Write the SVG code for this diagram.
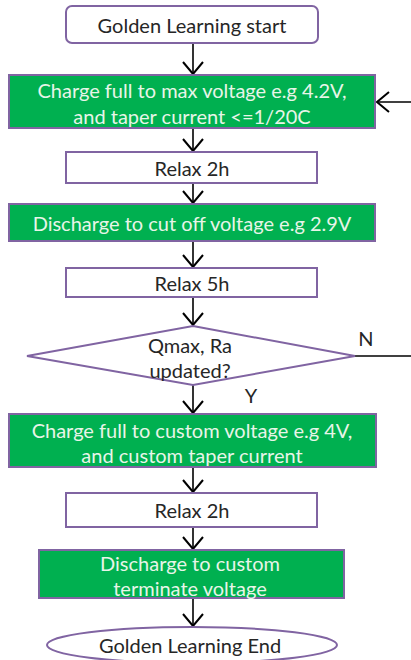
<svg xmlns="http://www.w3.org/2000/svg" width="411" height="660" viewBox="0 0 411 660">
<style>
.box{fill:#fff;stroke:#8064A2;stroke-width:2}
.g{fill:#00B050;stroke:#8064A2;stroke-width:2}
.t{font-family:Lato,"Liberation Sans",sans-serif;font-size:20px;text-anchor:middle;dominant-baseline:central;fill:#262626}
.w{fill:#E8F5E8}
.c{stroke:#000;stroke-width:1.6;fill:none}
</style>
<defs>
<marker id="ah" viewBox="0 0 14 22" refX="13" refY="11" markerWidth="14" markerHeight="22" markerUnits="userSpaceOnUse" orient="auto">
<path d="M1,1 L13,11 L1,21" fill="none" stroke="#000" stroke-width="2"/>
</marker>
</defs>
<g id="connectors">
<line class="c" x1="193" y1="43" x2="193" y2="74" marker-end="url(#ah)"/>
<line class="c" x1="411" y1="102" x2="377" y2="102" marker-end="url(#ah)"/>
<line class="c" x1="193" y1="128" x2="193" y2="151" marker-end="url(#ah)"/>
<line class="c" x1="193" y1="183" x2="193" y2="203" marker-end="url(#ah)"/>
<line class="c" x1="193" y1="241" x2="193" y2="267" marker-end="url(#ah)"/>
<line class="c" x1="193" y1="297" x2="193" y2="325" marker-end="url(#ah)"/>
<line class="c" x1="355" y1="356" x2="411" y2="356"/>
<line class="c" x1="193" y1="385" x2="193" y2="413" marker-end="url(#ah)"/>
<line class="c" x1="193" y1="467" x2="193" y2="492" marker-end="url(#ah)"/>
<line class="c" x1="193" y1="527" x2="193" y2="549" marker-end="url(#ah)"/>
<line class="c" x1="193" y1="598" x2="193" y2="626" marker-end="url(#ah)"/>
<text class="t" x="366" y="338">N</text>
<text class="t" x="251" y="395">Y</text>
</g>
<g id="start">
<rect class="box" x="66" y="6" width="252" height="37" rx="6"/>
<text class="t" x="192" y="25">Golden Learning start</text>
</g>
<g id="charge-max">
<rect class="g" x="9" y="75" width="366" height="53"/>
<text class="t w" x="192" y="90">Charge full to max voltage e.g 4.2V,</text>
<text class="t w" x="192" y="116">and taper current &lt;=1/20C</text>
</g>
<g id="relax1">
<rect class="box" x="66" y="152" width="251" height="31"/>
<text class="t" x="192" y="168">Relax 2h</text>
</g>
<g id="discharge-cutoff">
<rect class="g" x="9" y="204" width="366" height="37"/>
<text class="t w" x="192" y="223">Discharge to cut off voltage e.g 2.9V</text>
</g>
<g id="relax5">
<rect class="box" x="66" y="268" width="251" height="29"/>
<text class="t" x="192" y="283">Relax 5h</text>
</g>
<g id="decision">
<polygon class="box" points="193,326 355,356 193,385 27,356"/>
<text class="t" x="190" y="345">Qmax, Ra</text>
<text class="t" x="190" y="370">updated?</text>
</g>
<g id="charge-custom">
<rect class="g" x="9" y="414" width="367" height="53"/>
<text class="t w" x="192" y="430">Charge full to custom voltage e.g 4V,</text>
<text class="t w" x="192" y="455">and custom taper current</text>
</g>
<g id="relax2">
<rect class="box" x="66" y="493" width="251" height="34"/>
<text class="t" x="192" y="510">Relax 2h</text>
</g>
<g id="discharge-custom">
<rect class="g" x="39" y="550" width="305" height="48"/>
<text class="t w" x="190" y="563">Discharge to custom</text>
<text class="t w" x="190" y="588">terminate voltage</text>
</g>
<g id="end">
<ellipse class="box" cx="192" cy="645" rx="145" ry="18"/>
<text class="t" x="190" y="645">Golden Learning End</text>
</g>
</svg>
